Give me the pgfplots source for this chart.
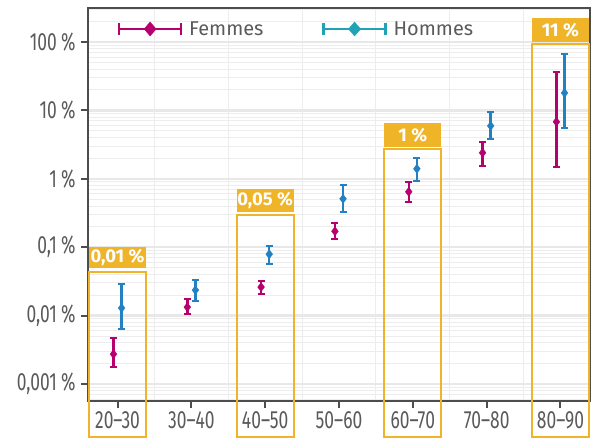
\documentclass[border=0pt]{standalone}
\usepackage{fontspec}
\setmainfont{Fira Sans}
\newfontfamily\condfont{Fira Sans}[FakeStretch=0.7]
\usepackage{pgfplots}
\usepackage{pgfplotstable}
\pgfplotsset{compat=1.18}
\definecolor{fem}{RGB}{181,0,110}
\definecolor{hom}{RGB}{35,128,195}
\definecolor{homleg}{RGB}{32,163,180}
\definecolor{gold}{RGB}{240,180,40}
\definecolor{txt}{RGB}{90,90,90}
\definecolor{frame}{RGB}{77,77,77}

\pgfplotstableread{
x y ep em
-0.055 0.00274 0.00196 0.00097
0.945 0.0133 0.0041 0.0028
1.945 0.0261 0.0058 0.0055
2.945 0.171 0.053 0.040
3.945 0.646 0.258 0.186
4.945 2.4 1.07 0.85
5.945 6.8 29.7 5.3
}\femtab

\pgfplotstableread{
x y ep em
0.055 0.0129 0.0159 0.00655
1.055 0.0236 0.0094 0.0073
2.055 0.079 0.0245 0.0225
3.055 0.51 0.307 0.18
4.055 1.40 0.63 0.465
5.055 5.94 3.56 2.10
6.055 18 48.8 12.45
}\homtab

\pgfplotsset{
femleg/.style={legend image code/.code={
  \draw[fem, line width=2.2bp] (0bp,0bp) -- (62bp,0bp);
  \draw[fem, line width=2.2bp] (0bp,-6bp) -- (0bp,6bp) (62bp,-6bp) -- (62bp,6bp);
  \fill[fem] (31bp,7bp) -- (37bp,0bp) -- (31bp,-7bp) -- (25bp,0bp) -- cycle;
}},
homleg/.style={legend image code/.code={
  \draw[homleg, line width=2.2bp] (0bp,0bp) -- (62bp,0bp);
  \draw[homleg, line width=2.2bp] (0bp,-6bp) -- (0bp,6bp) (62bp,-6bp) -- (62bp,6bp);
  \fill[homleg] (31bp,7bp) -- (37bp,0bp) -- (31bp,-7bp) -- (25bp,0bp) -- cycle;
}},
}

\begin{document}
\begin{tikzpicture}
\begin{axis}[
  scale only axis, width=502bp, height=393bp,
  ymode=log, xmin=-0.4, xmax=6.4, ymin=5.64e-4, ymax=314,
  xtick={0,1,2,3,4,5,6},
  xticklabels={20–30,30–40,40–50,50–60,60–70,70–80,80–90},
  ytick={0.001,0.01,0.1,1,10,100},
  yticklabels={{0,001\,\%},{0,01\,\%},{0,1\,\%},{1\,\%},{10\,\%},{100\,\%}},
  minor xtick={0.5,1.5,2.5,3.5,4.5,5.5},
  minor ytick={0.0006,0.0007,0.0008,0.0009,
    0.002,0.003,0.004,0.005,0.006,0.007,0.008,0.009,
    0.02,0.03,0.04,0.05,0.06,0.07,0.08,0.09,
    0.2,0.3,0.4,0.5,0.6,0.7,0.8,0.9,
    2,3,4,5,6,7,8,9,
    20,30,40,50,60,70,80,90,200,300},
  xminorgrids, ymajorgrids, yminorgrids,
  major grid style={color=black!9, line width=2.5bp},
  minor grid style={color=black!7, line width=1bp},
  tick align=outside, xtick pos=bottom, ytick pos=left,
  major tick length=7bp, minor tick length=0pt,
  tick style={color=frame, line width=2bp},
  axis line style={color=frame, line width=1.5bp},
  ticklabel style={font=\condfont\fontsize{25}{25}\selectfont, text=txt},
  yticklabel style={xshift=-2bp},
  clip=false,
  legend columns=2,
  legend style={at={(rel axis cs:0.0598,0.9466)}, anchor=west, draw=none, fill=none,
    inner sep=0pt, outer sep=0pt,
    nodes={inner sep=0pt, text=txt, font=\fontsize{20}{20}\selectfont},
    /tikz/every odd column/.append style={column sep=7bp},
    /tikz/every even column/.append style={column sep=59bp}},
]
\addlegendimage{femleg}
\addlegendentry{Femmes}
\addlegendimage{homleg}
\addlegendentry{Hommes}

\addplot[forget plot, only marks, mark=diamond*, mark size=4.5bp, fem,
  error bars/.cd, y dir=both, y explicit, error mark=|,
  error bar style={line width=2.5bp, fem},
  error mark options={line width=2bp, mark size=3.5bp, fem}]
  table[x=x, y=y, y error plus=ep, y error minus=em]{\femtab};
\addplot[forget plot, only marks, mark=diamond*, mark size=4.5bp, hom,
  error bars/.cd, y dir=both, y explicit, error mark=|,
  error bar style={line width=2.5bp, hom},
  error mark options={line width=2bp, mark size=3.5bp, hom}]
  table[x=x, y=y, y error plus=ep, y error minus=em]{\homtab};

% highlighted age groups
\draw[gold, line width=2bp] (axis cs:-0.385,1.68e-4) rectangle (axis cs:0.385,0.0434);
\fill[gold] (axis cs:-0.385,0.0497) rectangle (axis cs:0.385,0.1007);
\node[text=white, font=\bfseries\fontsize{18.5}{18.5}\selectfont] at (axis cs:0,0.0707) {0,01 \%};

\draw[gold, line width=2bp] (axis cs:1.615,1.68e-4) rectangle (axis cs:2.385,0.296);
\fill[gold] (axis cs:1.615,0.327) rectangle (axis cs:2.385,0.710);
\node[text=white, font=\bfseries\fontsize{18.5}{18.5}\selectfont] at (axis cs:2,0.482) {0,05 \%};

\draw[gold, line width=2bp] (axis cs:3.615,1.68e-4) rectangle (axis cs:4.385,2.73);
\fill[gold] (axis cs:3.615,2.92) rectangle (axis cs:4.385,6.54);
\node[text=white, font=\bfseries\fontsize{18.5}{18.5}\selectfont] at (axis cs:4,4.37) {1 \%};

\draw[gold, line width=2bp] (axis cs:5.615,1.68e-4) rectangle (axis cs:6.385,93.5);
\fill[gold] (axis cs:5.615,100) rectangle (axis cs:6.385,224);
\node[text=white, font=\bfseries\fontsize{18.5}{18.5}\selectfont] at (axis cs:6,149.7) {11 \%};
\end{axis}
\path (current axis.south west) ++(-88bp,-37bp) rectangle ++(592bp,438bp);
\end{tikzpicture}
\end{document}
